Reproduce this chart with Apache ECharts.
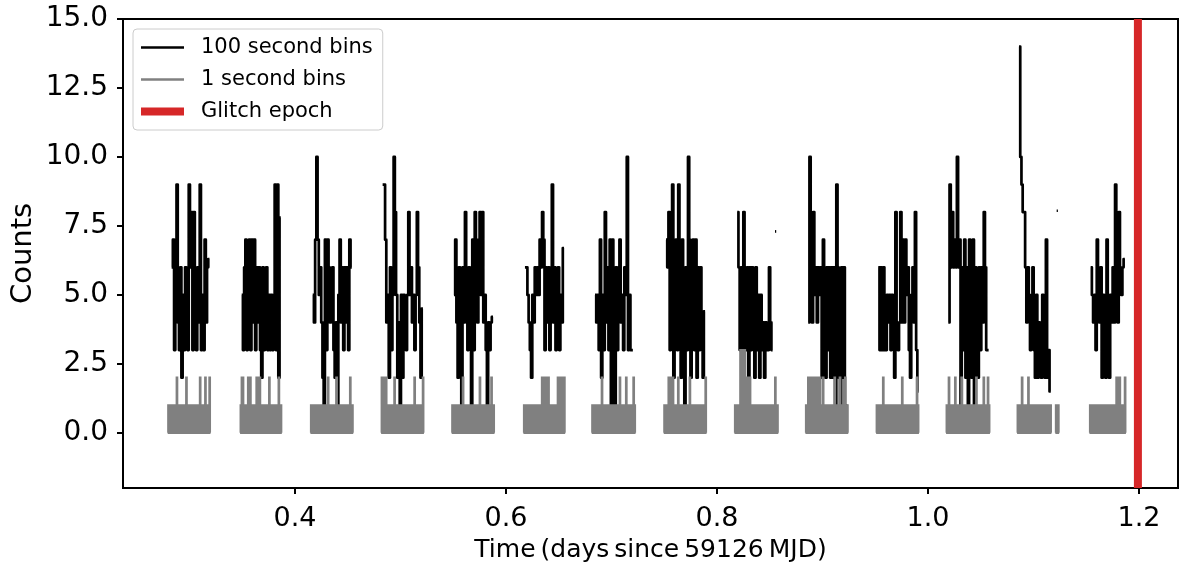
<!DOCTYPE html>
<html><head><meta charset="utf-8">
<script src="https://cdn.jsdelivr.net/npm/echarts@6/dist/echarts.min.js"></script>
<style>html,body{margin:0;padding:0;background:#fff}#c{width:1180px;height:569px}</style>
</head><body><div id="c"></div>
<script>
// ---- data (times in days since 59126 MJD) ----
const binDays = 100 / 86400;           // 100-second bins
const blackStarts = [0.2831, 0.3495, 0.4168, 0.4831, 0.5507, 0.6180, 0.6844, 0.7517, 0.8192, 0.8865, 0.9529, 1.0193, 1.0863, 1.1542];
const blackCounts = [
  [6,7,3,6,9,4,3,6,2,5,3,6,4,3,9,6,8,3,8,5,3,6,4,9,3,5,3,7,4,6,6.3],
  [5,3,6,7,3,4,7,3,7,4,7,3,6,4,6,3,2,6,3,5,6,3,5,3,5,3,5,9,3,9,2,7.8],
  [5,4,7,10,7,5,6,4,2,1,7,3,7,6,4,5,6,3,2,4,1,5,7,4,6,3,6,4,6,3,7,6],
  [9,9,7,4,5,2,6,3,5,10,8,5,2,4,1,5,2,5,4,3,5,8,5,6,4,5,3,5,8,6,4,2,4.5],
  [5,7,4,2,6,3,1,6,4,8,6,3,6,4,1,7,3,8,7,4,7,8,5,8,4,5,3,1,4,3,4,4.2],
  [6,6,5,4,3,2,5,4,6,5,6,5,7,6,8,7,3,6,4,6,3,6,9,4,6,3,4,6,3,5,4,6.7],
  [5,4,5,3,7,2,5,3,8,4,6,3,7,1,7,6,1,6,3,5,7,4,5,3,6,5,10,3,5,3,3],
  [7,6,8,3,7,9,2,6,7,3,9,6,2,7,6,1,6,3,10,7,2,6,7,3,7,2,6,3,6,3.5,2,4.4],
  [8,6,3,6,2,8,6,3,6,2,6,3,6,5,2,6,3,5,2,5,3,4,2,4,3,3,6,4,3],
  [4,10,5,4,8,5,6,4,6,5,6,2,7,6,2,6,3,6,2,6,2,6,1,9,6,2,1,6,2,6,1,1],
  [6,3,6,3,6,3,3,5,4,5,3,5,4,2,8,4,3,4,8,4,7,4,7,5,6,3,2,5,6,4,8,3,1.5],
  [4,9,6,8,6,7,6,10,6,7,1,6,3,7,2,6,1,7,6,2,7,1,6,5,2,6,3,6,4,8,6,3,3],
  [14,10,9,8,8,6,4,6,5,3,4,6,3,2,5,2,4,3,2,5,3,2,7,2,3,1.5],
  [6,5,4,5,3,7,5,4,6,2,5,4,2,7,4,2,5,4,6,4,9,5,4,8,6,5,6,6.3]
];
const lonelyBinStarts = [0.8550, 1.1220];
const lonelyBinCounts = [7.3, 8.05];

const grayRes = 0.001;                 // one drawn column of 1-second bins
const grayStarts = [0.2799, 0.3485, 0.4152, 0.4822, 0.5491, 0.6171, 0.6818, 0.7501, 0.8171, 0.8844, 0.9514, 1.0177, 1.0850, 1.1213, 1.1536];
const grayCols   = [40, 39, 40, 40, 40, 39, 41, 40, 41, 40, 40, 41, 32, 3, 34];
const grayBand   = 1;                  // level of the dense band of 1-second bins
const graySpikes = [
  [[8,2],[17,2],[30,2],[35,2],[39,2]],
  [[1,2],[2,2],[7,2],[8,2],[9,2],[15,2],[16,2],[18,2],[27,2],[36,2]],
  [[16,2],[24,2],[37,2]],
  [[0,2],[1,2],[2,2],[3,2],[4,2],[12,2],[31,2],[39,2]],
  [[10,2],[26,2],[37,2]],
  [[17,2],[18,2],[19,2],[20,2],[21,2],[22,2],[23,2],[32,2],[33,2],[34,2],[35,2],[36,2],[37,2],[38,2]],
  [[9,2],[26,2],[32,2],[39,2]],
  [[4,2],[5,2],[6,2],[7,2],[8,2],[13,2],[24,2],[39,2]],
  [[5,3],[6,3],[7,3],[8,3],[9,3],[11,2],[12,2],[13,2],[14,2],[38,2]],
  [[2,2],[3,2],[4,2],[5,2],[6,2],[7,2],[8,2],[9,2],[10,2],[11,2],[12,2],[13,2],[16,2],[27,2],[32,2],[37,2]],
  [[6,2],[24,2],[38,2]],
  [[2,2],[8,2],[14,2],[28,2],[35,2],[39,2]],
  [[4,2],[10,2]],
  [],
  [[25,2],[26,2],[27,2],[28,2],[33,2]]
];
const glitchEpoch = 1.199;
const xTicks = [0.4, 0.6, 0.8, 1.0, 1.2];
const yTicks = [0, 2.5, 5, 7.5, 10, 12.5, 15];

// ---- build step paths (each bin holds its value across its width) ----
function stepPoints(t0, vals, width) {
  const pts = [];
  vals.forEach((v, i) => { pts.push([t0 + i * width, v], [t0 + (i + 1) * width, v]); });
  return pts;
}
const blackSegs = [];
blackStarts.forEach((t0, s) => blackSegs.push(stepPoints(t0, blackCounts[s], binDays)));
lonelyBinStarts.forEach((t0, s) => blackSegs.push(stepPoints(t0, [lonelyBinCounts[s]], binDays)));

const graySegs = [];
grayStarts.forEach((t0, s) => {
  const cols = new Array(grayCols[s]).fill(grayBand);
  graySpikes[s].forEach(([i, v]) => { cols[i] = v; });
  const pts = [];
  cols.forEach((v, i) => {
    const t = t0 + i * grayRes;
    pts.push([t, 0], [t, v], [t + grayRes / 2, v], [t + grayRes / 2, 0]);
  });
  graySegs.push(pts);
});

function segItems(segs) {
  return segs.map((pts, i) => {
    const ys = pts.map(p => p[1]);
    return [pts[0][0], pts[pts.length - 1][0], Math.min(...ys), Math.max(...ys), i];
  });
}
function polyRenderer(segs, color, width, join) {
  return function (params, api) {
    const pts = segs[api.value(4)].map(p => api.coord(p));
    return { type: 'polyline', shape: { points: pts },
      style: { stroke: color, lineWidth: width, fill: null, lineJoin: join, lineCap: 'butt' } };
  };
}

const FONT = 'DejaVu Sans';
const TS = '\u2009';
const lineIcon = h => 'path://M0,0M0,' + (7 - h / 2) + 'L43,' + (7 - h / 2) + 'L43,' + (7 + h / 2) + 'L0,' + (7 + h / 2) + 'ZM43,14';
const chart = echarts.init(document.getElementById('c'), null, { renderer: 'canvas' });
chart.setOption({
  animation: false,
  backgroundColor: '#fff',
  textStyle: { fontFamily: FONT },
  grid: { left: 123, right: 2, top: 19, bottom: 81, outerBoundsMode: 'none', containLabel: false,
    show: true, borderColor: '#000', borderWidth: 2, backgroundColor: 'transparent' },
  legend: {
    orient: 'vertical', left: 133, top: 29,
    padding: [8, 10, 8, 8],
    itemWidth: 43, itemHeight: 14, itemGap: 11,
    itemStyle: { borderWidth: 0 },
    backgroundColor: 'rgba(255,255,255,0.8)', borderColor: '#cccccc', borderWidth: 1, borderRadius: 4,
    textStyle: { fontFamily: FONT, fontSize: 21, color: '#000', lineHeight: 20, padding: [0, 0, 0, 12] },
    data: [
      { name: '100 second bins', icon: lineIcon(2.4) },
      { name: '1 second bins', icon: lineIcon(2.4) },
      { name: 'Glitch epoch', icon: lineIcon(8) }
    ]
  },
  xAxis: {
    type: 'value', min: 0.237, max: 1.237,
    name: ['Time', '(days', 'since', '59126', 'MJD)'].join(TS), nameLocation: 'middle', nameGap: 50,
    nameMoveOverlap: false,
    nameTextStyle: { fontFamily: FONT, fontSize: 25, color: '#000' },
    axisLine: { show: false, onZero: false },
    axisTick: { show: true, length: 6, lineStyle: { color: '#000', width: 2 }, customValues: xTicks },
    axisLabel: { fontFamily: FONT, fontSize: 27, color: '#000', margin: 17, customValues: xTicks, formatter: v => v.toFixed(1) },
    splitLine: { show: false }
  },
  yAxis: {
    type: 'value', min: -2, max: 15,
    name: 'Counts', nameLocation: 'middle', nameGap: 85,
    nameMoveOverlap: false,
    nameTextStyle: { fontFamily: FONT, fontSize: 29, color: '#000' },
    axisLine: { show: false, onZero: false },
    axisTick: { show: true, length: 6, lineStyle: { color: '#000', width: 2 }, customValues: yTicks },
    axisLabel: { fontFamily: FONT, fontSize: 28, color: '#000', margin: 15, customValues: yTicks, formatter: v => v.toFixed(1) },
    splitLine: { show: false }
  },
  series: [
    { name: '100 second bins', type: 'custom', coordinateSystem: 'cartesian2d',
      data: segItems(blackSegs), encode: { x: [0, 1], y: [2, 3] },
      renderItem: polyRenderer(blackSegs, '#000000', 2.7, 'round'),
      itemStyle: { color: '#000000' }, z: 2 },
    { name: '1 second bins', type: 'custom', coordinateSystem: 'cartesian2d',
      data: segItems(graySegs), encode: { x: [0, 1], y: [2, 3] },
      renderItem: polyRenderer(graySegs, '#808080', 2.2, 'miter'),
      itemStyle: { color: '#808080' }, z: 3 },
    { name: 'Glitch epoch', type: 'line', data: [[glitchEpoch, -2], [glitchEpoch, 15]], symbol: 'none',
      lineStyle: { color: '#d62728', width: 8 }, itemStyle: { color: '#d62728' }, z: 4 }
  ]
});
</script></body></html>
